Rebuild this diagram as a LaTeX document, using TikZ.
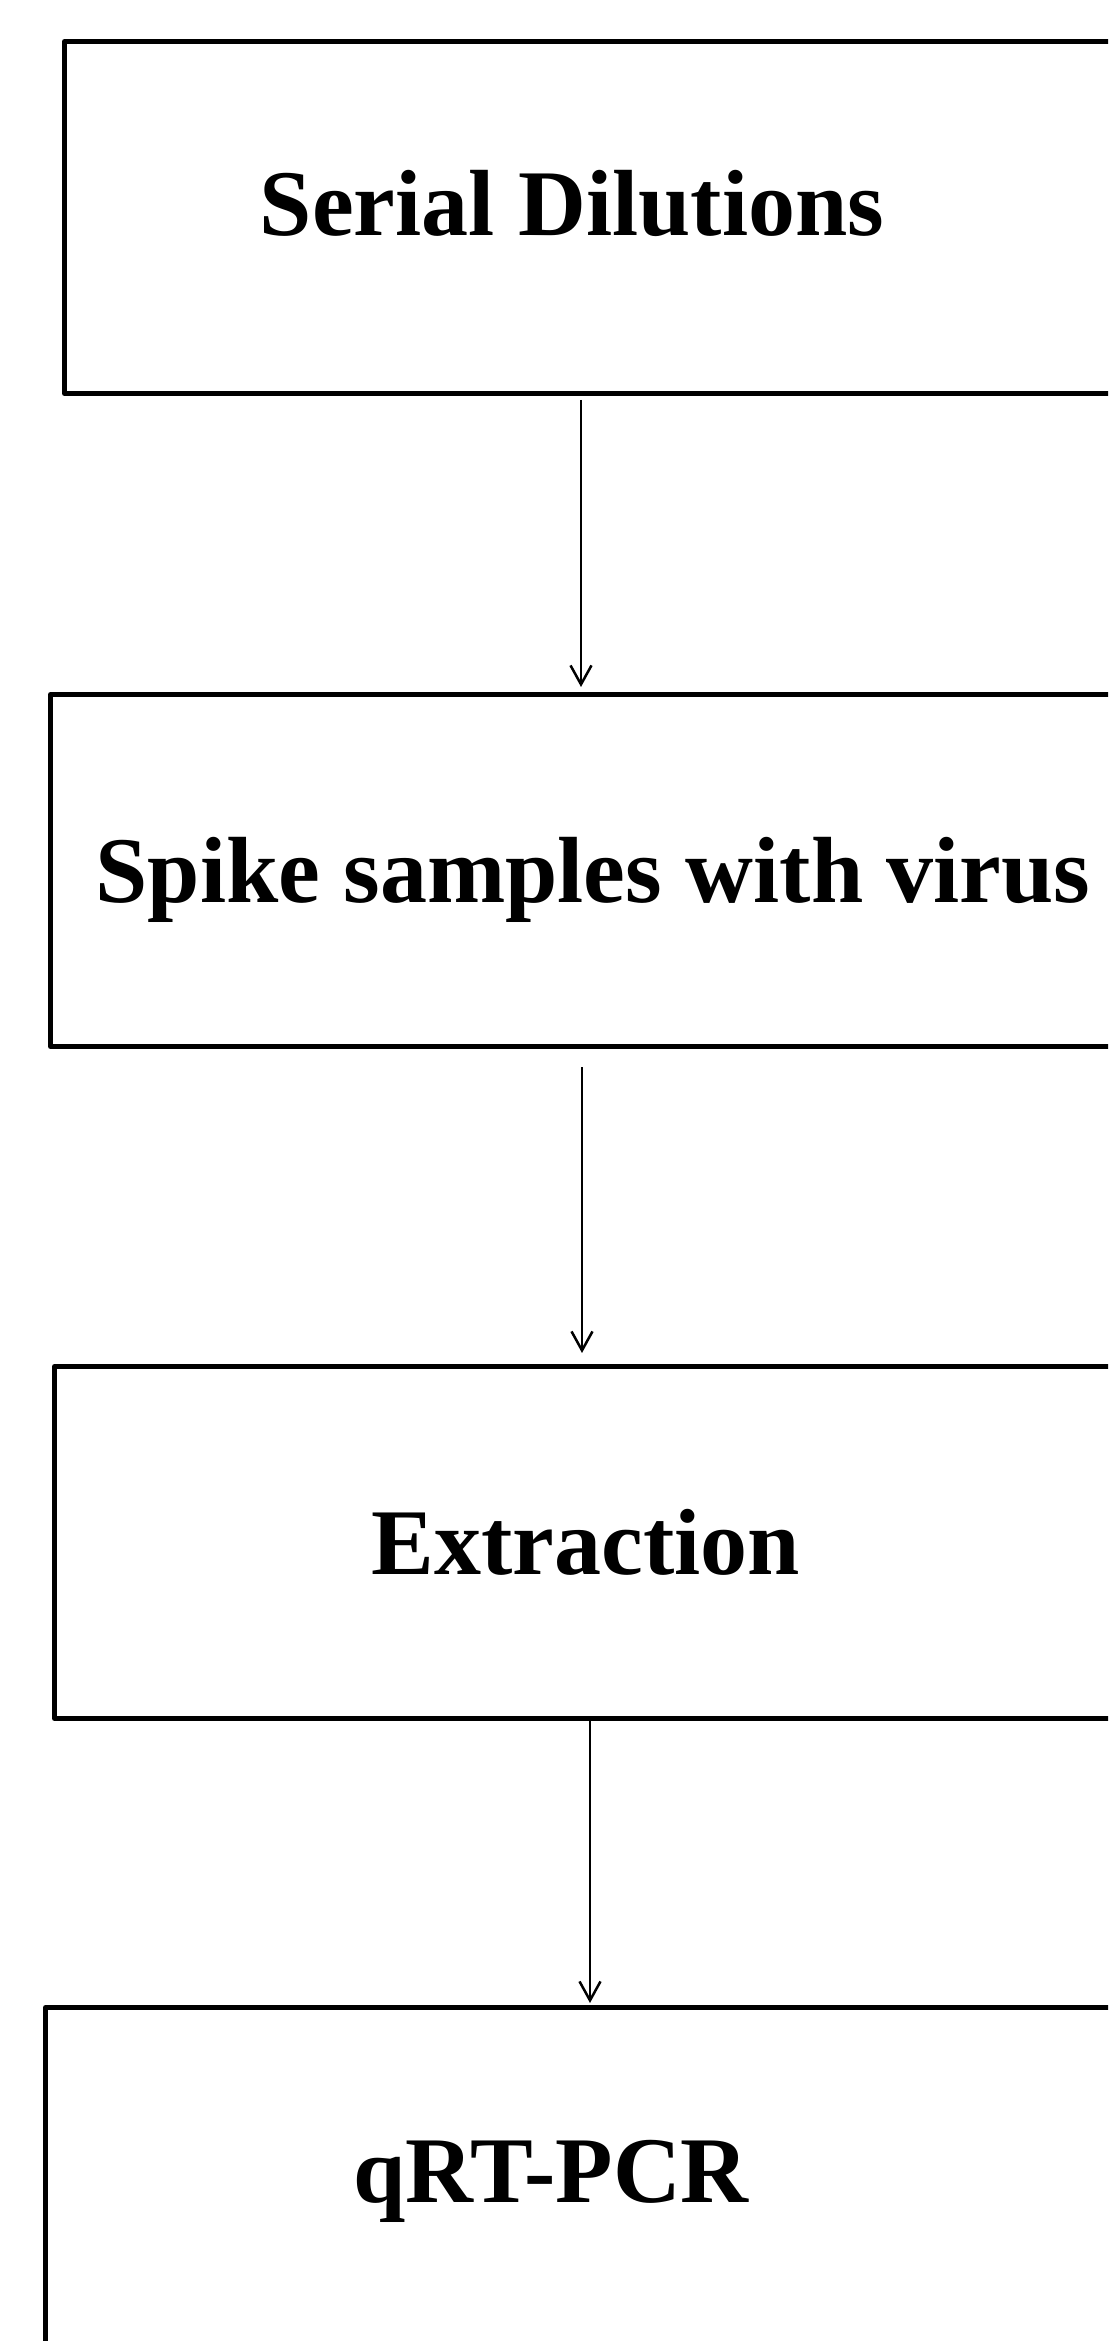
\documentclass[tikz,border=0pt]{standalone}
\usepackage{fontspec}
\setmainfont{Liberation Serif}
\usetikzlibrary{arrows.meta}
\definecolor[named]{drawColor}{rgb}{0.00,0.00,0.00}
\definecolor[named]{fillColor}{rgb}{1.00,1.00,1.00}

\begin{document}
\begin{tikzpicture}[x=1pt,y=1pt,
  stepbox/.style={draw=drawColor,line width=5pt,line join=round,inner sep=0pt,outer sep=0pt,
    minimum width=1100pt,minimum height=352pt,anchor=north west},
  steplabel/.style={text=drawColor,anchor=base,inner sep=0pt,outer sep=0pt,
    font=\fontsize{94}{110}\selectfont\bfseries},
  flow/.style={draw=drawColor,line width=2.5pt,-{Straight Barb[length=19pt,width=21pt]}}]
\path[use as bounding box,fill=fillColor] (0,0) rectangle (1108.00,2341.00);
\begin{scope}
\path[clip] (0,0) rectangle (1108.00,2341.00);

% boxes
\node[stepbox] (dilute) at ( 64.50,2299.50) {};
\node[stepbox] (spike)  at ( 50.50,1646.50) {};
\node[stepbox] (extract) at ( 54.50, 974.50) {};
\node[stepbox] (pcr)    at ( 45.50, 333.50) {};

% labels
\node[steplabel] (diluteText)  at (572.00,2105.00) {Serial Dilutions};
\node[steplabel] (spikeText)   at (593.00,1438.00) {Spike samples with virus};
\node[steplabel] (extractText) at (586.00, 766.00) {Extraction};
\node[steplabel] (pcrText)     at (551.00, 138.00) {qRT-PCR};

% arrows
\coordinate (a1) at (581.00,0);
\coordinate (a2) at (582.00,0);
\coordinate (a3) at (590.00,0);
\draw[flow,shorten <=6.5pt,shorten >=7.5pt] (a1 |- dilute.south) -- (a1 |- spike.north);
\draw[flow,shorten <=21pt,shorten >=13.5pt] (a2 |- spike.south) -- (a2 |- extract.north);
\draw[flow,shorten >=4.5pt] (a3 |- extract.south) -- (a3 |- pcr.north);
\end{scope}
\end{tikzpicture}
\end{document}
